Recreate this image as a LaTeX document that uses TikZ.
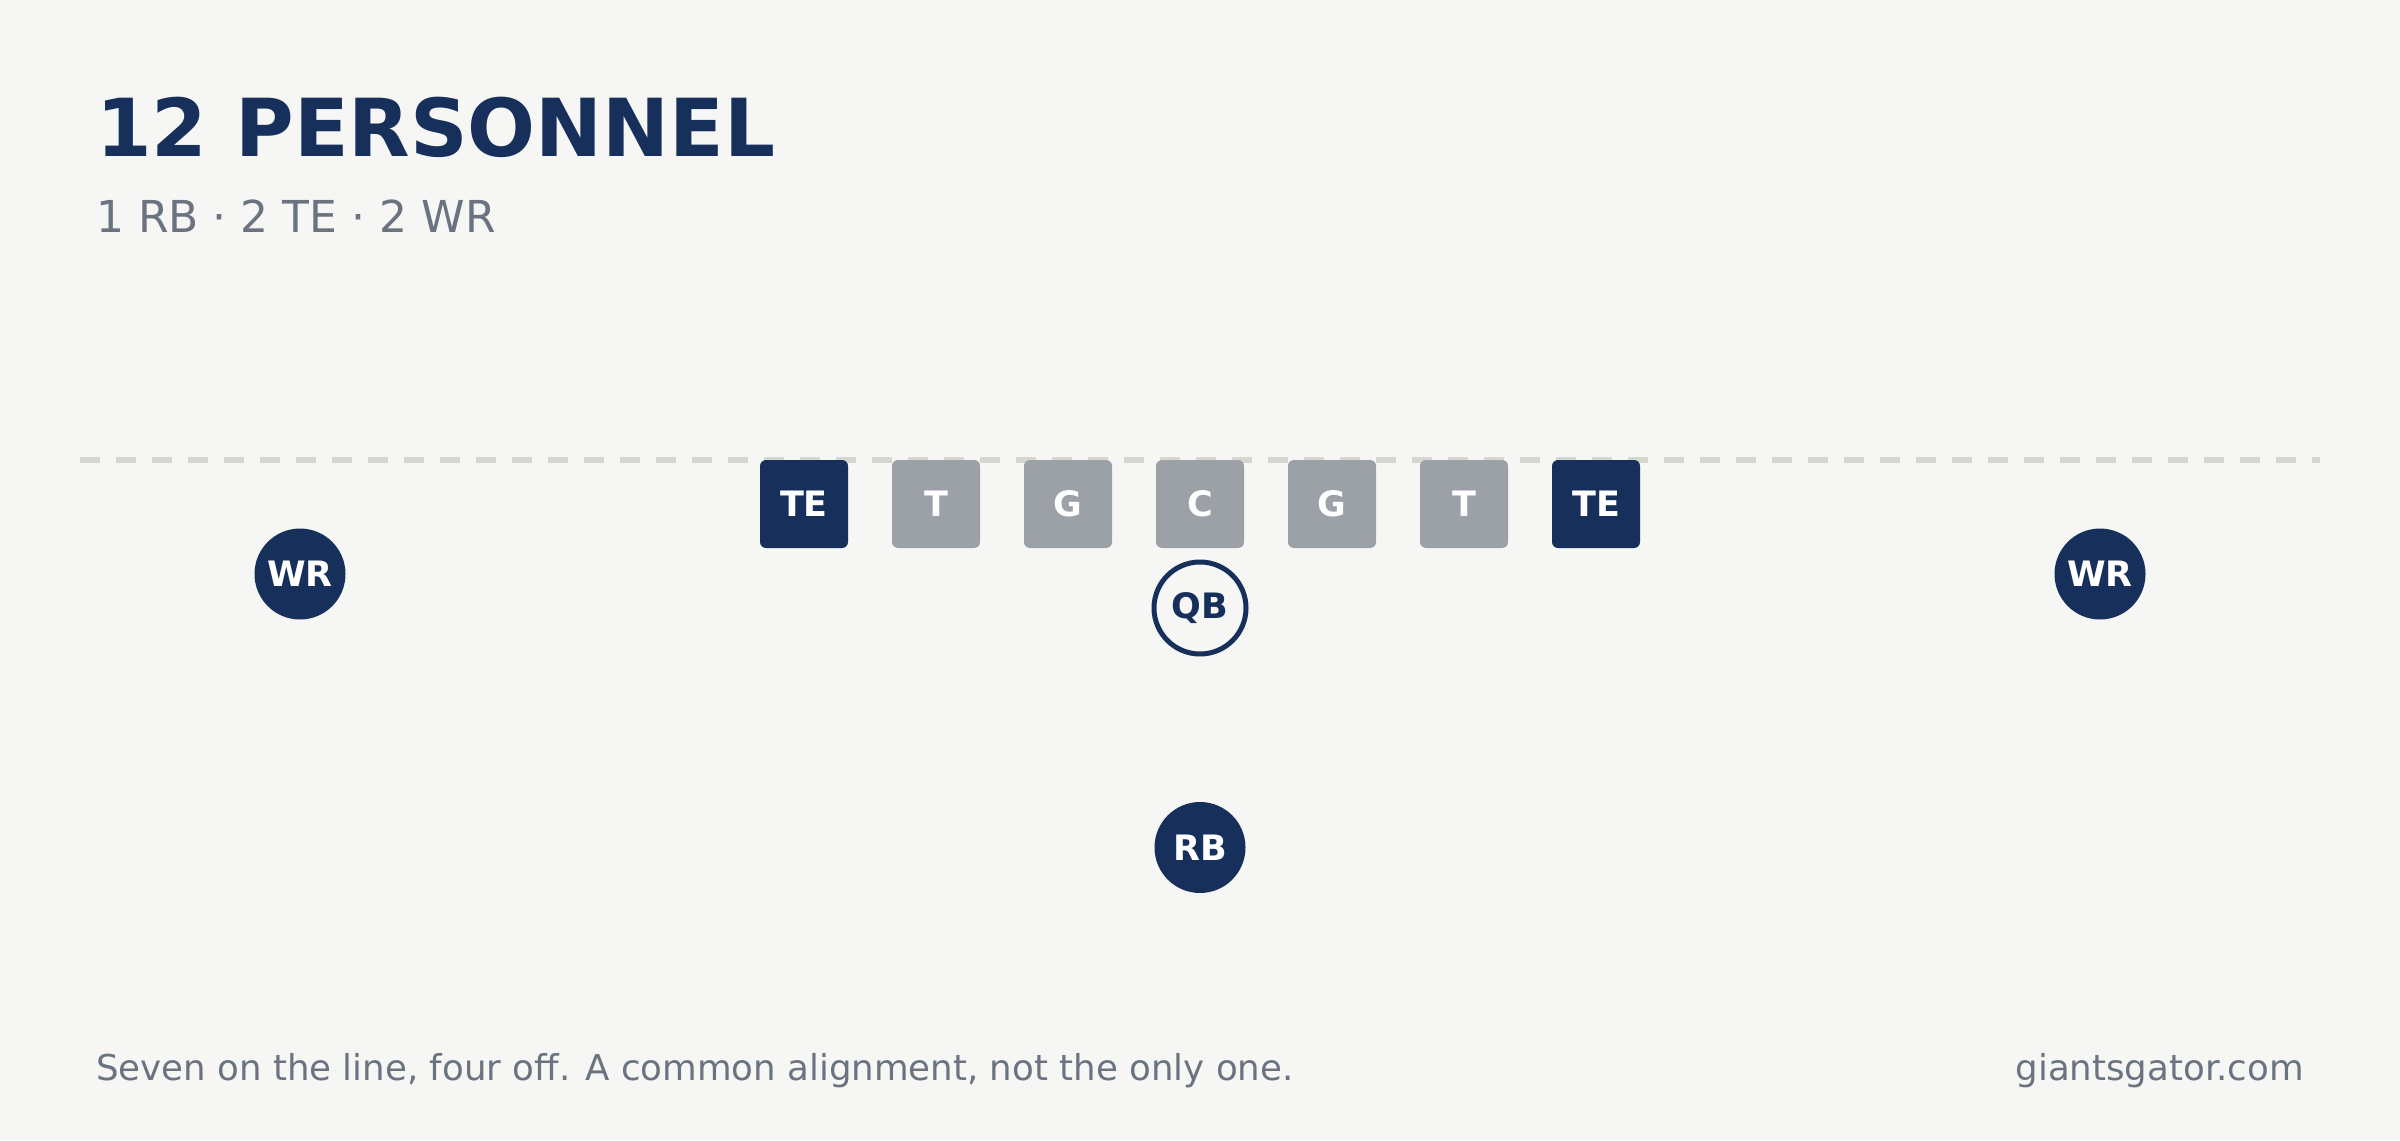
\documentclass[tikz,border=0pt]{standalone}
\usepackage{fontspec}
\setmainfont{DejaVu Sans}
\definecolor{navy}{HTML}{16305B}
\definecolor{linegray}{HTML}{9CA0A7}
\definecolor{bgcol}{HTML}{F6F6F4}
\definecolor{dashcol}{HTML}{D6D6D0}
\definecolor{mutedtext}{HTML}{6B7280}
\newcommand{\playerfont}{\fontsize{35}{42}\selectfont\bfseries}
\begin{document}
\begin{tikzpicture}[x=1pt,y=-1pt,
  lineman/.style={rectangle, rounded corners=6pt, minimum size=88pt, inner sep=0pt, fill=linegray, text=white, font=\playerfont},
  tightend/.style={lineman, fill=navy},
  skill/.style={circle, minimum size=91pt, inner sep=0pt, fill=navy, text=white, font=\playerfont},
  passer/.style={circle, minimum size=92pt, inner sep=0pt, draw=navy, line width=5pt, fill=bgcol, text=navy, font=\playerfont},
  scrimmage/.style={draw=dashcol, line width=5.5pt, dash pattern=on 20pt off 16pt},
  label/.style={inner sep=0pt, anchor=base west}
]
\useasboundingbox (0,0) rectangle (2400,1140);
\fill[bgcol] (0,0) rectangle (2400,1140);

% title block
\node[label, text=navy, font=\fontsize{80}{96}\selectfont\bfseries] (title) at (96,156) {12 PERSONNEL};
\node[label, text=mutedtext, font=\fontsize{44}{53}\selectfont] (subtitle) at (96,232) {1 RB · 2 TE · 2 WR};

% line of scrimmage
\coordinate (losL) at (80,460);
\coordinate (losR) at (2320,460);
\draw[scrimmage] (losL) -- (losR);

% offensive line
\node[tightend] (teL) at (804,504) {TE};
\node[lineman] (tL) at (936,504) {T};
\node[lineman] (gL) at (1068,504) {G};
\node[lineman] (c) at (1200,504) {C};
\node[lineman] (gR) at (1332,504) {G};
\node[lineman] (tR) at (1464,504) {T};
\node[tightend] (teR) at (1596,504) {TE};

% backs and receivers
\node[passer] (qb) at (1200,608) {QB};
\node[skill] (rb) at (1200,847.5) {RB};
\node[skill] (wrL) at (300,574) {WR};
\node[skill] (wrR) at (2100,574) {WR};

% footer
\node[label, text=mutedtext, font=\fontsize{35.6}{43}\selectfont] (note) at (96,1080) {Seven on the line, four off. A common alignment, not the only one.};
\node[inner sep=0pt, anchor=base east, text=mutedtext, font=\fontsize{35.6}{43}\selectfont] (site) at (2304,1080) {giantsgator.com};
\end{tikzpicture}
\end{document}
